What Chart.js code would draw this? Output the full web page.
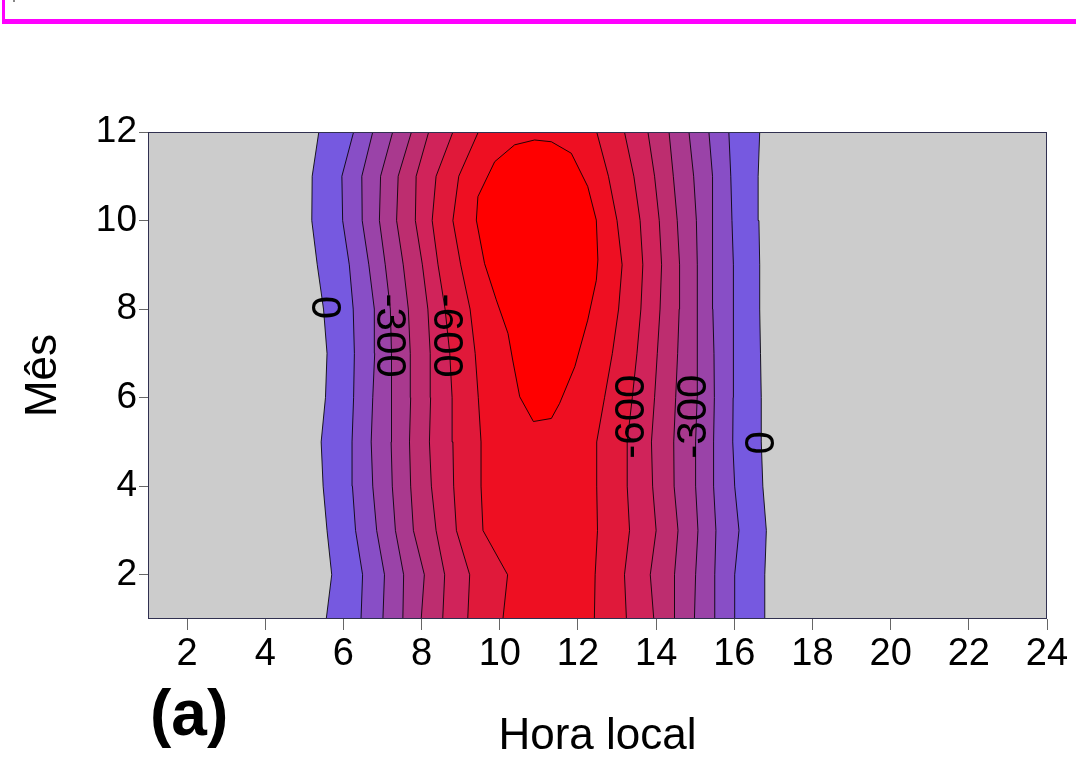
<!DOCTYPE html>
<html>
<head>
<meta charset="utf-8">
<title>Hora local x Mês</title>
<script src="https://cdn.jsdelivr.net/npm/chart.js@4.4.1/dist/chart.umd.min.js"></script>
<style>
  html, body { margin: 0; padding: 0; background: #fff; }
  #wrap { position: relative; width: 1076px; height: 763px; overflow: hidden; }
  #frame { position: absolute; left: 2px; top: -12px; width: 1100px; height: 36px; box-sizing: border-box; border: 5px solid #ff00ff; border-left-width: 3px; }
  #mark { position: absolute; left: 13px; top: 0; width: 2px; height: 2px; background: #888; }
</style>
</head>
<body>
<div id="wrap">
  <canvas id="contourChart" width="1076" height="763"></canvas>
  <div id="frame"></div>
  <div id="mark"></div>
</div>
<script>
// contour levels: for each level the hour where it crosses, per month
const months = [1, 2, 3, 4, 5, 6, 7, 8, 9, 10, 11, 12];
const levels = [0, -100, -200, -300, -400, -500, -600, -700];

// morning side (one row per level)
const morningHours = [
  [5.56, 5.70, 5.58, 5.48, 5.43, 5.54, 5.58, 5.49, 5.33, 5.19, 5.20, 5.37],
  [6.45, 6.49, 6.31, 6.23, 6.22, 6.26, 6.28, 6.25, 6.15, 5.98, 5.96, 6.26],
  [7.01, 7.05, 6.85, 6.75, 6.71, 6.75, 6.80, 6.79, 6.65, 6.48, 6.47, 6.75],
  [7.52, 7.54, 7.33, 7.25, 7.22, 7.23, 7.23, 7.20, 7.07, 6.92, 6.95, 7.26],
  [7.99, 8.07, 7.79, 7.72, 7.69, 7.72, 7.71, 7.66, 7.53, 7.36, 7.40, 7.74],
  [8.54, 8.59, 8.37, 8.25, 8.20, 8.23, 8.22, 8.16, 8.02, 7.84, 7.86, 8.18],
  [9.18, 9.23, 8.89, 8.82, 8.80, 8.78, 8.72, 8.60, 8.42, 8.27, 8.37, 8.80],
  [10.08, 10.20, 9.57, 9.52, 9.52, 9.45, 9.37, 9.24, 9.00, 8.80, 8.95, 9.45]
];

// afternoon side (same levels)
const afternoonHours = [
  [16.78, 16.78, 16.82, 16.73, 16.69, 16.69, 16.67, 16.65, 16.65, 16.63, 16.61, 16.65],
  [16.01, 16.01, 16.12, 16.01, 15.96, 15.97, 15.98, 15.98, 15.97, 15.94, 15.91, 15.86],
  [15.50, 15.50, 15.53, 15.47, 15.47, 15.49, 15.48, 15.45, 15.45, 15.45, 15.43, 15.35],
  [14.98, 15.01, 15.07, 15.01, 15.01, 15.05, 15.05, 15.05, 15.06, 15.03, 14.96, 14.84],
  [14.47, 14.47, 14.56, 14.46, 14.45, 14.50, 14.55, 14.59, 14.60, 14.54, 14.44, 14.33],
  [13.94, 13.85, 14.00, 13.91, 13.88, 13.96, 14.03, 14.10, 14.14, 14.08, 13.96, 13.79],
  [13.24, 13.19, 13.32, 13.26, 13.26, 13.39, 13.51, 13.61, 13.66, 13.59, 13.43, 13.19],
  [12.42, 12.44, 12.50, 12.48, 12.48, 12.68, 12.88, 13.04, 13.13, 13.00, 12.78, 12.48]
];

// closed -800 contour (midday minimum), split in two halves
const blobMonthsLeft = [5.46, 6.02, 6.85, 7.45, 8.21, 9.03, 10.01, 10.54, 11.33, 11.71, 11.82];
const blobHoursLeft = [10.86, 10.51, 10.33, 10.21, 9.91, 9.61, 9.40, 9.44, 9.87, 10.38, 10.89];
const blobMonthsRight = [5.46, 5.53, 5.87, 6.70, 7.75, 8.65, 9.11, 10.01, 10.77, 11.52, 11.78, 11.82];
const blobHoursRight = [10.86, 11.32, 11.53, 11.92, 12.25, 12.47, 12.51, 12.47, 12.25, 11.83, 11.32, 10.89];

// contour labels
const labelText = ['0', '-300', '-600', '-600', '-300', '0'];
const labelHour = [5.49, 7.15, 8.62, 13.40, 14.98, 16.71];
const labelMonth = [8.04, 7.40, 7.40, 5.57, 5.57, 4.98];

const hourTicks = [2, 4, 6, 8, 10, 12, 14, 16, 18, 20, 22, 24];
const monthTicks = [2, 4, 6, 8, 10, 12];

// fill inside each level (last one is the -800 blob)
const bandColors = ['#7659e0', '#884ec6', '#9a43a8', '#a9398e', '#bd2d6f', '#d0235a', '#e0193a', '#ee0f22', '#ff0000'];

const FONT = '"Liberation Sans", Arial, sans-serif';

const datasets = [];
levels.forEach((lvl, k) => {
  const leftIndex = datasets.length;
  datasets.push({
    label: lvl + ' manhã',
    data: months.map((m, i) => ({ x: morningHours[k][i], y: m })),
    fill: false,
    order: 50 - k
  });
  datasets.push({
    label: lvl + ' tarde',
    data: months.map((m, i) => ({ x: afternoonHours[k][i], y: m })),
    fill: leftIndex,
    backgroundColor: bandColors[k],
    order: 50 - k
  });
});
const blobIndex = datasets.length;
datasets.push({
  label: '-800 manhã',
  data: blobMonthsLeft.map((m, i) => ({ x: blobHoursLeft[i], y: m })),
  fill: false,
  order: 40
});
datasets.push({
  label: '-800 tarde',
  data: blobMonthsRight.map((m, i) => ({ x: blobHoursRight[i], y: m })),
  fill: blobIndex,
  backgroundColor: bandColors[8],
  order: 40
});

const plotBackground = {
  id: 'plotBackground',
  beforeDraw(chart) {
    const { ctx, chartArea: a } = chart;
    ctx.save();
    ctx.fillStyle = '#cccccc';
    ctx.fillRect(a.left, a.top, a.right - a.left, a.bottom - a.top);
    ctx.restore();
  },
  afterDatasetsDraw(chart) {
    const { ctx, chartArea: a } = chart;
    ctx.save();
    ctx.strokeStyle = '#303050';
    ctx.lineWidth = 1;
    ctx.strokeRect(a.left + 0.5, a.top + 0.5, a.right - a.left - 1, a.bottom - a.top - 1);
    ctx.restore();
  }
};

const contourLabels = {
  id: 'contourLabels',
  afterDatasetsDraw(chart) {
    const { ctx } = chart;
    const x = chart.scales.x, y = chart.scales.y;
    ctx.save();
    ctx.font = '42px ' + FONT;
    ctx.fillStyle = '#000';
    ctx.textAlign = 'center';
    ctx.textBaseline = 'middle';
    labelText.forEach((t, i) => {
      ctx.save();
      ctx.translate(x.getPixelForValue(labelHour[i]), y.getPixelForValue(labelMonth[i]));
      // labels follow the line direction: morning ones read downwards
      ctx.rotate(labelHour[i] < 11 ? Math.PI / 2 : -Math.PI / 2);
      ctx.fillText(t, 0, 0);
      ctx.restore();
    });
    ctx.restore();
  },
  afterDraw(chart) {
    const { ctx } = chart;
    ctx.save();
    ctx.font = 'bold 64px ' + FONT;
    ctx.fillStyle = '#000';
    ctx.textAlign = 'left';
    ctx.textBaseline = 'alphabetic';
    ctx.fillText('(a)', 150, 735);
    ctx.restore();
  }
};

new Chart(document.getElementById('contourChart').getContext('2d'), {
  type: 'line',
  data: { datasets: datasets },
  options: {
    responsive: false,
    animation: false,
    events: [],
    indexAxis: 'y',
    layout: { padding: { top: 132, right: 29, left: 0, bottom: 0 } },
    datasets: {
      line: {
        borderColor: 'rgba(0, 0, 0, 0.85)',
        borderWidth: 1,
        pointRadius: 0,
        tension: 0
      }
    },
    plugins: {
      legend: { display: false },
      tooltip: { enabled: false },
      filler: { drawTime: 'beforeDatasetsDraw' }
    },
    scales: {
      x: {
        type: 'linear',
        position: 'bottom',
        min: 1,
        max: 24,
        afterBuildTicks: s => { s.ticks = hourTicks.map(v => ({ value: v })); },
        afterFit: s => { s.height = 144; },
        grid: { drawOnChartArea: false, drawTicks: true, tickLength: 11, color: '#666' },
        border: { display: false },
        ticks: { color: '#000', font: { size: 38, family: FONT }, padding: 2, maxRotation: 0, autoSkip: false },
        title: { display: true, text: 'Hora local', color: '#000', font: { size: 44, family: FONT }, padding: { top: 0, bottom: 0 } }
      },
      y: {
        type: 'linear',
        position: 'left',
        min: 1,
        max: 12,
        afterBuildTicks: s => { s.ticks = monthTicks.map(v => ({ value: v })); },
        afterFit: s => { s.width = 148; },
        grid: { drawOnChartArea: false, drawTicks: true, tickLength: 9, color: '#666' },
        border: { display: false },
        ticks: { color: '#000', font: { size: 37, family: FONT }, padding: 2, autoSkip: false },
        title: { display: true, text: 'Mês', color: '#000', font: { size: 44, family: FONT }, padding: { top: 17, bottom: 0 } }
      }
    }
  },
  plugins: [plotBackground, contourLabels]
});
</script>
</body>
</html>
